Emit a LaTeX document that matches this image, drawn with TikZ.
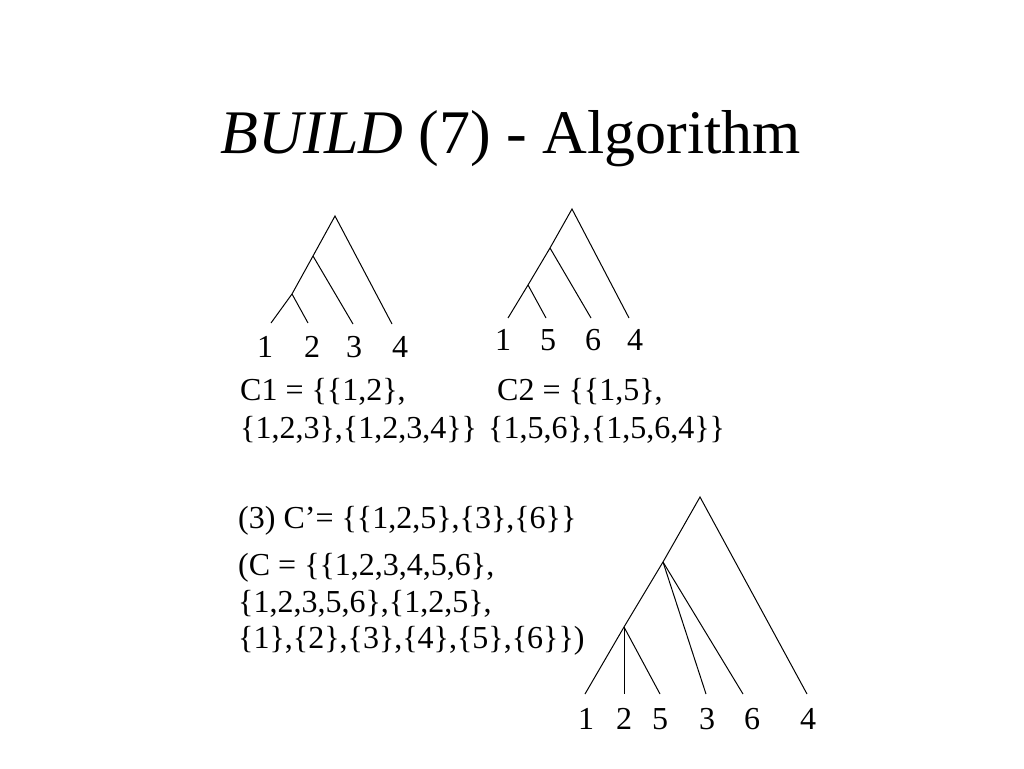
\documentclass[tikz,border=0pt]{standalone}
\usepackage{fontspec}
\setmainfont{Liberation Serif}
\begin{document}
\begin{tikzpicture}[x=1pt,y=-1pt,
  edge/.style={draw=black,line width=1pt},
  lab/.style={font=\fontsize{32}{32}\selectfont,anchor=base,inner sep=0pt},
  txt/.style={font=\fontsize{32}{32}\selectfont,anchor=base west,inner sep=0pt},
  ttl/.style={font=\fontsize{62}{62}\selectfont,anchor=base,inner sep=0pt}]
\useasboundingbox[fill=white] (0,0) rectangle (1024,768);
\node[ttl] (title) at (511,153) {\textit{BUILD} (7) - Algorithm};

% Tree 1
\coordinate (r1) at (335,216);
\coordinate (a1) at (313,256);
\coordinate (b1) at (292,294);
\coordinate (l11) at (271,323);
\coordinate (l12) at (308,323);
\coordinate (l13) at (353,324);
\coordinate (l14) at (392,324);
\draw[edge] (l11) -- (b1) -- (a1) -- (r1) -- (l14);
\draw[edge] (b1) -- (l12);
\draw[edge] (a1) -- (l13);
\node[lab] (t11) at (265,357) {1};
\node[lab] (t12) at (312,357) {2};
\node[lab] (t13) at (354,357) {3};
\node[lab] (t14) at (400,357) {4};

% Tree 2
\coordinate (r2) at (572,209);
\coordinate (a2) at (550,248);
\coordinate (b2) at (528,285);
\coordinate (l21) at (508,318);
\coordinate (l22) at (546,318);
\coordinate (l23) at (591,318);
\coordinate (l24) at (629,318);
\draw[edge] (l21) -- (b2) -- (a2) -- (r2) -- (l24);
\draw[edge] (b2) -- (l22);
\draw[edge] (a2) -- (l23);
\node[lab] (t21) at (503,350) {1};
\node[lab] (t22) at (548,350) {5};
\node[lab] (t23) at (593,350) {6};
\node[lab] (t24) at (635,350) {4};

% Tree 3
\coordinate (r3) at (700,497);
\coordinate (a3) at (663,562);
\coordinate (b3) at (624,627);
\coordinate (l31) at (585,694);
\coordinate (l32) at (624,694);
\coordinate (l33) at (660,694);
\coordinate (l34) at (706,694);
\coordinate (l35) at (743,694);
\coordinate (l36) at (807,694);
\draw[edge] (l31) -- (b3) -- (a3) -- (r3) -- (l36);
\draw[edge] (b3) -- (l32);
\draw[edge] (b3) -- (l33);
\draw[edge] (a3) -- (l34);
\draw[edge] (a3) -- (l35);
\node[lab] (t31) at (586,729) {1};
\node[lab] (t32) at (624,729) {2};
\node[lab] (t33) at (660,729) {5};
\node[lab] (t34) at (707,729) {3};
\node[lab] (t35) at (752,729) {6};
\node[lab] (t36) at (808,729) {4};

% Texts
\node[txt] (c1a) at (240,400) {C1 = \{\{1,2\},};
\node[txt] (c1b) at (240,438) {\{1,2,3\},\{1,2,3,4\}\}};
\node[txt] (c2a) at (497,400) {C2 = \{\{1,5\},};
\node[txt] (c2b) at (488,438) {\{1,5,6\},\{1,5,6,4\}\}};
\node[txt] (cp) at (238,528) {(3) C’= \{\{1,2,5\},\{3\},\{6\}\}};
\node[txt] (ca) at (238,575) {(C = \{\{1,2,3,4,5,6\},};
\node[txt] (cb) at (238,612) {\{1,2,3,5,6\},\{1,2,5\},};
\node[txt] (cc) at (238,648) {\{1\},\{2\},\{3\},\{4\},\{5\},\{6\}\})};
\end{tikzpicture}
\end{document}
